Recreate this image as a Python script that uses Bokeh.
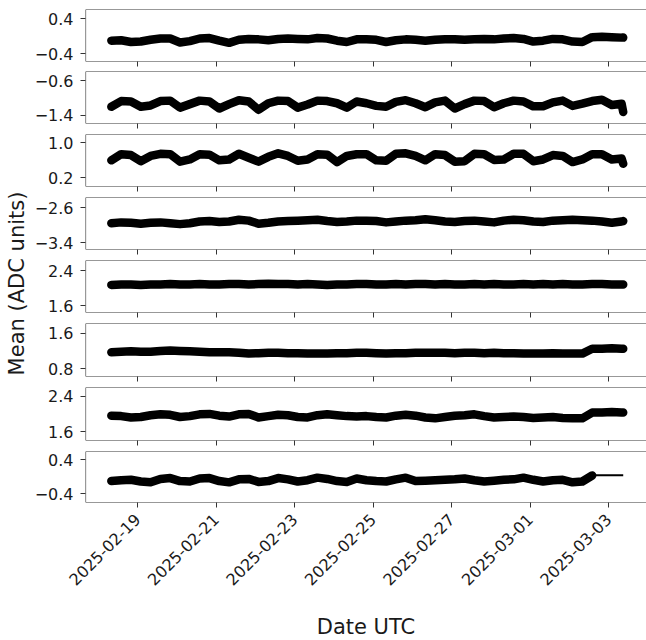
import math
import pandas as pd
from datetime import datetime
from bokeh.plotting import figure
from bokeh.layouts import row, column
from bokeh.models import (Range1d, FixedTicker, DatetimeTickFormatter,
                          CustomJSTickFormatter, CustomLabelingPolicy, Label, Span)
from bokeh.embed import file_html
from bokeh.resources import INLINE

# ---------------- data ----------------
times = pd.DatetimeIndex(
    list(pd.date_range("2025-02-18 08:00", periods=53, freq="6h"))
    + [pd.Timestamp("2025-03-03 09:00")]
)

ch1 = [-0.10, -0.09, -0.13, -0.12, -0.08, -0.05, -0.05, -0.14, -0.11, -0.05,
       -0.04, -0.10, -0.15, -0.08, -0.06, -0.07, -0.09, -0.06, -0.05, -0.06,
       -0.07, -0.04, -0.05, -0.10, -0.13, -0.07, -0.07, -0.08, -0.13, -0.09,
       -0.07, -0.08, -0.10, -0.08, -0.07, -0.07, -0.08, -0.07, -0.06, -0.07,
       -0.05, -0.04, -0.06, -0.12, -0.10, -0.06, -0.07, -0.12, -0.13, -0.02,
       -0.01, -0.02, -0.03, -0.03]
ch2 = [-1.20, -1.07, -1.08, -1.20, -1.17, -1.07, -1.06, -1.22, -1.14, -1.06,
       -1.08, -1.24, -1.14, -1.05, -1.08, -1.27, -1.12, -1.06, -1.07, -1.22,
       -1.15, -1.06, -1.07, -1.12, -1.22, -1.08, -1.12, -1.18, -1.20, -1.09,
       -1.05, -1.12, -1.21, -1.10, -1.06, -1.24, -1.14, -1.06, -1.07, -1.21,
       -1.12, -1.06, -1.08, -1.19, -1.19, -1.10, -1.06, -1.18, -1.13, -1.07,
       -1.04, -1.16, -1.13, -1.32]
ch3 = [0.60, 0.74, 0.72, 0.58, 0.70, 0.75, 0.74, 0.57, 0.62, 0.74,
       0.73, 0.60, 0.62, 0.75, 0.66, 0.57, 0.68, 0.76, 0.70, 0.59,
       0.62, 0.74, 0.73, 0.56, 0.70, 0.74, 0.74, 0.60, 0.59, 0.75,
       0.76, 0.70, 0.60, 0.74, 0.72, 0.57, 0.58, 0.75, 0.74, 0.61,
       0.62, 0.75, 0.75, 0.58, 0.62, 0.72, 0.70, 0.56, 0.62, 0.74,
       0.74, 0.62, 0.64, 0.52]
ch4 = [-2.96, -2.94, -2.95, -2.97, -2.95, -2.94, -2.96, -2.98, -2.96, -2.92,
       -2.91, -2.93, -2.92, -2.88, -2.90, -2.97, -2.95, -2.92, -2.91, -2.90,
       -2.89, -2.88, -2.91, -2.93, -2.92, -2.90, -2.90, -2.91, -2.94, -2.92,
       -2.90, -2.89, -2.87, -2.89, -2.92, -2.93, -2.91, -2.90, -2.92, -2.94,
       -2.90, -2.88, -2.89, -2.92, -2.93, -2.90, -2.89, -2.88, -2.89, -2.90,
       -2.92, -2.95, -2.92, -2.91]
ch5 = [2.07, 2.08, 2.08, 2.07, 2.08, 2.08, 2.09, 2.08, 2.08, 2.09,
       2.08, 2.08, 2.09, 2.09, 2.08, 2.09, 2.10, 2.09, 2.09, 2.08,
       2.09, 2.08, 2.07, 2.08, 2.08, 2.09, 2.09, 2.08, 2.08, 2.09,
       2.08, 2.09, 2.09, 2.08, 2.09, 2.08, 2.08, 2.09, 2.08, 2.09,
       2.08, 2.08, 2.09, 2.08, 2.09, 2.08, 2.09, 2.08, 2.08, 2.09,
       2.09, 2.08, 2.08, 2.08]
ch6 = [1.17, 1.18, 1.19, 1.18, 1.18, 1.20, 1.21, 1.20, 1.19, 1.18,
       1.17, 1.17, 1.17, 1.16, 1.14, 1.15, 1.16, 1.16, 1.15, 1.15,
       1.14, 1.14, 1.14, 1.15, 1.15, 1.16, 1.16, 1.15, 1.14, 1.15,
       1.15, 1.16, 1.16, 1.16, 1.16, 1.15, 1.16, 1.16, 1.15, 1.16,
       1.15, 1.15, 1.14, 1.14, 1.14, 1.15, 1.14, 1.14, 1.14, 1.25,
       1.25, 1.26, 1.25, 1.25]
ch7 = [1.96, 1.95, 1.92, 1.93, 1.97, 1.99, 1.98, 1.93, 1.95, 1.99,
       2.00, 1.96, 1.94, 1.99, 2.00, 1.92, 1.95, 1.98, 1.97, 1.93,
       1.92, 1.97, 1.99, 1.97, 1.95, 1.94, 1.95, 1.93, 1.92, 1.96,
       1.98, 1.96, 1.92, 1.90, 1.93, 1.96, 1.97, 1.99, 1.95, 1.92,
       1.93, 1.94, 1.93, 1.91, 1.92, 1.93, 1.91, 1.90, 1.90, 2.03,
       2.03, 2.04, 2.03, 2.03]
ch8 = [-0.10, -0.08, -0.07, -0.11, -0.13, -0.05, -0.03, -0.10, -0.11, -0.04,
       -0.03, -0.10, -0.13, -0.06, -0.05, -0.12, -0.10, -0.03, -0.06, -0.11,
       -0.08, -0.02, -0.05, -0.10, -0.12, -0.04, -0.08, -0.10, -0.11, -0.06,
       -0.02, -0.10, -0.09, -0.08, -0.07, -0.06, -0.04, -0.08, -0.11, -0.09,
       -0.07, -0.06, -0.02, -0.07, -0.11, -0.08, -0.07, -0.13, -0.11, 0.03]
ch8_flat = [0.035, 0.035, 0.035, 0.035, 0.035]

series = [ch1, ch2, ch3, ch4, ch5, ch6, ch7, ch8]

y_ticks = [[-0.4, 0.4], [-1.4, -0.6], [0.2, 1.0], [-3.4, -2.6],
           [1.6, 2.4], [0.8, 1.6], [1.6, 2.4], [-0.4, 0.4]]
x_tick_dates = ["2025-02-19", "2025-02-21", "2025-02-23", "2025-02-25",
                "2025-02-27", "2025-03-01", "2025-03-03"]

y_title = "Mean (ADC units)"
x_title = "Date UTC"

# ---------------- layout / style ----------------
y_limits = [(-0.576, 0.613), (-1.583, -0.394), (0.0, 1.192), (-3.56, -2.371),
            (1.44, 2.629), (0.626, 1.815), (1.403, 2.592), (-0.60, 0.59)]
frame_heights = [52, 52, 52, 52, 52, 53, 53, 51]
top_borders = [9, 0, 0, 0, 0, 0, 0, 0]
bottom_borders = [10, 11, 11, 11, 11, 11, 11, 138]

FONT = "DejaVu Sans"
TXT = "#1a1a1a"
EDGE = "#333333"
LW = 8.5

x_start = datetime(2025, 2, 17, 16, 12)
x_end = datetime(2025, 3, 3, 23, 14)
x_range = Range1d(start=x_start, end=x_end)
x_start_ms = pd.Timestamp(x_start).value / 1e6
x_ticks_ms = [pd.Timestamp(d).value // 10**6 for d in x_tick_dates]
fmt = "%Y-%m-%d"
dt_formatter = DatetimeTickFormatter(milliseconds=fmt, seconds=fmt, minsec=fmt,
                                     minutes=fmt, hourmin=fmt, hours=fmt, days=fmt,
                                     months=fmt, years=fmt)
y_formatter_code = "return tick.toFixed(1).replace('-', '\\u2212');"
hide_all_labels = "for (const i of indices) { indices.unset(i) } return indices"

panels = []
n = len(series)
for i in range(n):
    lo, hi = y_limits[i]
    p = figure(frame_width=561, frame_height=frame_heights[i],
               x_axis_type="datetime", x_range=x_range,
               y_range=Range1d(lo, hi),
               output_backend="svg", toolbar_location=None,
               min_border_left=55, min_border_right=0,
               min_border_top=top_borders[i], min_border_bottom=bottom_borders[i])
    p.grid.visible = False
    p.outline_line_color = None
    p.background_fill_color = "white"
    p.border_fill_color = "white"
    # frame edges (right edge lies outside the cropped reference)
    for loc, dim in ((lo, "width"), (hi, "width"), (x_start_ms, "height")):
        p.add_layout(Span(location=loc, dimension=dim, line_color=EDGE, line_width=1.2))

    if i == n - 1:
        p.line(times[:len(ch8)], ch8, line_color="black", line_width=LW,
               line_join="round", line_cap="round")
        p.line(times[len(ch8) - 1:], ch8_flat, line_color="black", line_width=2)
    else:
        p.line(times, series[i], line_color="black", line_width=LW,
               line_join="round", line_cap="round")

    ya = p.yaxis[0]
    ya.ticker = FixedTicker(ticks=y_ticks[i])
    ya.formatter = CustomJSTickFormatter(code=y_formatter_code)
    ya.axis_line_color = None
    ya.major_tick_in = 0
    ya.major_tick_out = 5
    ya.major_tick_line_color = EDGE
    ya.minor_tick_line_color = None
    ya.major_label_standoff = 7
    ya.major_label_text_font = FONT
    ya.major_label_text_font_size = "16px"
    ya.major_label_text_color = TXT

    xa = p.xaxis[0]
    xa.ticker = FixedTicker(ticks=x_ticks_ms)
    xa.formatter = dt_formatter
    xa.axis_line_color = None
    xa.major_tick_in = 0
    xa.major_tick_out = 5
    xa.major_tick_line_color = EDGE
    xa.minor_tick_line_color = None
    if i == n - 1:
        xa.major_label_orientation = math.pi / 4
        xa.major_label_standoff = 9
        xa.major_label_text_font = FONT
        xa.major_label_text_font_size = "16px"
        xa.major_label_text_color = TXT
        xa.axis_label = x_title
        xa.axis_label_text_font = FONT
        xa.axis_label_text_font_size = "21px"
        xa.axis_label_text_font_style = "normal"
        xa.axis_label_text_color = TXT
        xa.axis_label_standoff = 21
    else:
        xa.major_label_policy = CustomLabelingPolicy(code=hide_all_labels)
        xa.major_label_text_font_size = "0px"
        xa.major_label_standoff = 0
    panels.append(p)

lab = figure(width=30, height=640, x_range=Range1d(0, 30), y_range=Range1d(0, 640),
             output_backend="svg", toolbar_location=None,
             x_axis_location=None, y_axis_location=None, min_border=0)
lab.grid.visible = False
lab.outline_line_color = None
lab.add_layout(Label(x=16, y=357, text=y_title, angle=math.pi / 2,
                     text_align="center", text_baseline="middle",
                     text_font=FONT, text_font_size="21px", text_color=TXT))

layout = row(lab, column(*panels, spacing=0), spacing=0)

open("out.html", "w").write(file_html(layout, INLINE))
